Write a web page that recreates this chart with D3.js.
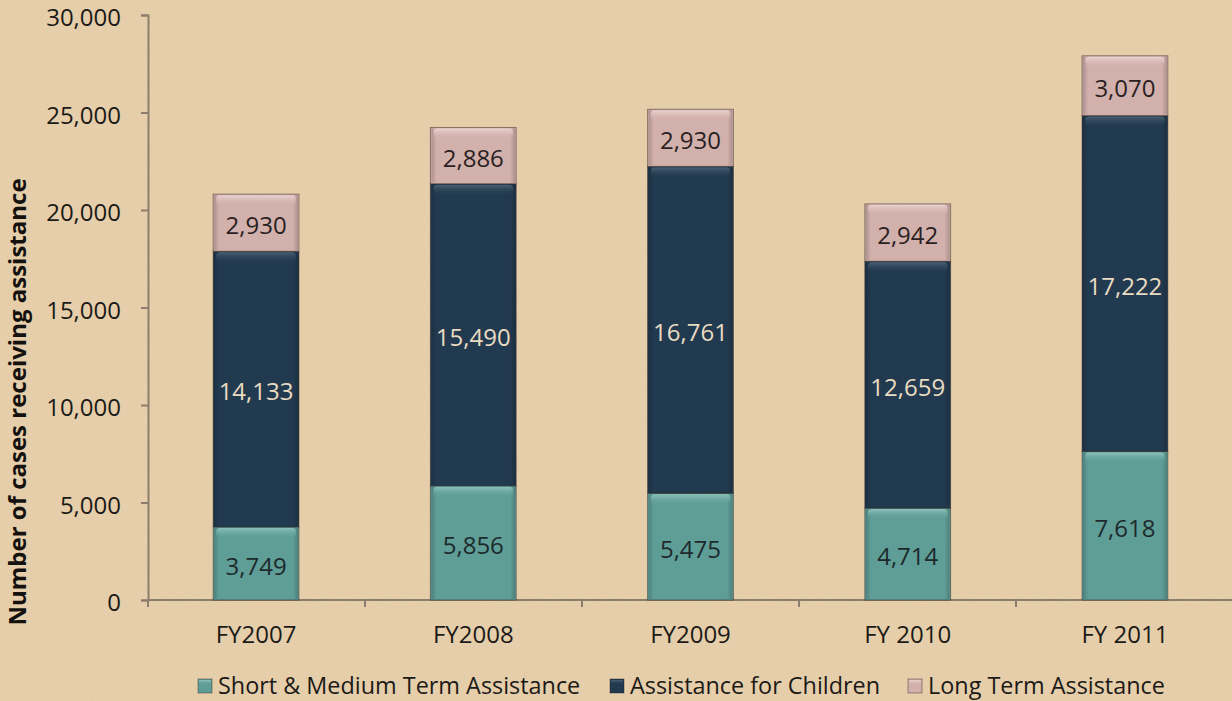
<!DOCTYPE html>
<html>
<head>
<meta charset="utf-8">
<script src="https://cdn.jsdelivr.net/npm/d3@7"></script>
<style>
    html, body { margin: 0; padding: 0; background: #e8d3b0; }
    svg { display: block; font-family: 'Open Sans', sans-serif; }
</style>
</head>
<body>
<div id="chart"></div>
<script>
// chart data
const years = ['FY2007', 'FY2008', 'FY2009', 'FY 2010', 'FY 2011'];
const shortMedium = [3749, 5856, 5475, 4714, 7618];
const children = [14133, 15490, 16761, 12659, 17222];
const longTerm = [2930, 2886, 2930, 2942, 3070];
const seriesNames = ['Short & Medium Term Assistance', 'Assistance for Children', 'Long Term Assistance'];
const yTicks = [0, 5000, 10000, 15000, 20000, 25000, 30000];

const W = 1232;
const H = 701;
const margin = { top: 15, right: -1, bottom: 101, left: 148 };

const COLORS = ['#5f9d97', '#223a4f', '#d2b0ac'];
const HIGHLIGHT = ['#8cc2bb', '#4a6072', '#ead3cf'];
const LABEL_COLORS = ['#1d2a2c', '#e9dcc2', '#2a1f22'];
const FONT_SIZE = '24px';

const svg = d3.select('#chart')
    .append('svg')
    .attr('width', W)
    .attr('height', H);

const defs = svg.append('defs');

// paper texture for the background
const paper = defs.append('filter').attr('id', 'paper')
    .attr('x', 0).attr('y', 0).attr('width', '100%').attr('height', '100%');
paper.append('feTurbulence')
    .attr('type', 'fractalNoise')
    .attr('baseFrequency', 0.9)
    .attr('numOctaves', 2)
    .attr('seed', 3)
    .attr('result', 'noise');
paper.append('feColorMatrix')
    .attr('type', 'matrix')
    .attr('values', '0 0 0 0 0.45  0 0 0 0 0.35  0 0 0 0 0.2  0 0 0 0.16 0');

svg.append('rect').attr('width', W).attr('height', H).attr('fill', '#ead2ae');
svg.append('rect').attr('width', W).attr('height', H).attr('filter', 'url(#paper)');

// bevel gradients, one per series
COLORS.forEach((c, i) => {
    const g = defs.append('linearGradient')
        .attr('id', 'top' + i)
        .attr('x1', 0).attr('y1', 0).attr('x2', 0).attr('y2', 1);
    g.append('stop').attr('offset', '0%').attr('stop-color', HIGHLIGHT[i]);
    g.append('stop').attr('offset', '100%').attr('stop-color', c).attr('stop-opacity', 0);
    const s = defs.append('linearGradient')
        .attr('id', 'side' + i)
        .attr('x1', 0).attr('y1', 0).attr('x2', 1).attr('y2', 0);
    s.append('stop').attr('offset', '0%').attr('stop-color', '#000').attr('stop-opacity', 0.18);
    s.append('stop').attr('offset', '6%').attr('stop-color', '#000').attr('stop-opacity', 0);
    s.append('stop').attr('offset', '94%').attr('stop-color', '#000').attr('stop-opacity', 0);
    s.append('stop').attr('offset', '100%').attr('stop-color', '#000').attr('stop-opacity', 0.18);
});

const width = W - margin.left - margin.right;
const height = H - margin.top - margin.bottom;

const g = svg.append('g')
    .attr('transform', 'translate(' + margin.left + ',' + margin.top + ')');

const xScale = d3.scaleBand()
    .domain(years)
    .range([0, width])
    .paddingInner(0.605)
    .paddingOuter(0.3);

const yScale = d3.scaleLinear()
    .domain([0, 30000])
    .range([height, 0]);

const table = years.map((year, i) => ({
    year: year,
    s0: shortMedium[i],
    s1: children[i],
    s2: longTerm[i]
}));
const stacked = d3.stack().keys(['s0', 's1', 's2'])(table);

const axisColor = '#8b7e6c';

// y axis
const yAxis = d3.axisLeft(yScale)
    .tickValues(yTicks)
    .tickSize(7)
    .tickPadding(20)
    .tickFormat(d3.format(','));
const yAxisG = g.append('g').call(yAxis);
yAxisG.select('.domain').attr('stroke', axisColor).attr('stroke-width', 2);
yAxisG.selectAll('.tick line').attr('stroke', axisColor).attr('stroke-width', 2);
yAxisG.selectAll('.tick text')
    .attr('fill', '#1c1a17')
    .attr('dy', '0.45em')
    .style('font-size', FONT_SIZE)
    .style('font-family', 'Open Sans, sans-serif');

// x axis: line with ticks on the band boundaries
const xAxisG = g.append('g').attr('transform', 'translate(0,' + height + ')');
xAxisG.append('line')
    .attr('x1', 0).attr('x2', width)
    .attr('stroke', axisColor).attr('stroke-width', 2);
xAxisG.selectAll('line.edge')
    .data(years.concat(['end']))
    .enter()
    .append('line')
    .attr('class', 'edge')
    .attr('x1', (d, i) => i * width / years.length)
    .attr('x2', (d, i) => i * width / years.length)
    .attr('y1', 0).attr('y2', 7)
    .attr('stroke', axisColor).attr('stroke-width', 2);
xAxisG.selectAll('text.cat')
    .data(years)
    .enter()
    .append('text')
    .attr('class', 'cat')
    .attr('x', (d) => xScale(d) + xScale.bandwidth() / 2)
    .attr('y', 43)
    .attr('text-anchor', 'middle')
    .attr('fill', '#1c1a17')
    .style('font-size', FONT_SIZE)
    .text((d) => d);

// stacked bars
const layers = g.selectAll('g.layer')
    .data(stacked)
    .enter()
    .append('g')
    .attr('class', 'layer');

layers.each(function (layer, li) {
    const sel = d3.select(this);
    const bars = sel.selectAll('g.seg')
        .data(layer)
        .enter()
        .append('g')
        .attr('class', 'seg');
    bars.append('rect')
        .attr('x', (d) => xScale(d.data.year))
        .attr('y', (d) => yScale(d[1]))
        .attr('width', xScale.bandwidth())
        .attr('height', (d) => yScale(d[0]) - yScale(d[1]))
        .attr('fill', COLORS[li])
        .attr('stroke', 'rgba(30,25,20,0.45)')
        .attr('stroke-width', 1);
    bars.append('rect')
        .attr('x', (d) => xScale(d.data.year) + 1)
        .attr('y', (d) => yScale(d[1]) + 1)
        .attr('width', xScale.bandwidth() - 2)
        .attr('height', (d) => yScale(d[0]) - yScale(d[1]) - 2)
        .attr('fill', 'url(#side' + li + ')');
    bars.append('rect')
        .attr('x', (d) => xScale(d.data.year) + 3)
        .attr('y', (d) => yScale(d[1]) + 1)
        .attr('width', xScale.bandwidth() - 6)
        .attr('height', 11)
        .attr('rx', 4)
        .attr('fill', 'url(#top' + li + ')');
    bars.append('text')
        .attr('x', (d) => xScale(d.data.year) + xScale.bandwidth() / 2)
        .attr('y', (d) => (yScale(d[0]) + yScale(d[1])) / 2 + 3)
        .attr('dy', '0.35em')
        .attr('text-anchor', 'middle')
        .attr('fill', LABEL_COLORS[li])
        .style('font-size', FONT_SIZE)
        .text((d) => d3.format(',')(d[1] - d[0]));
});

// y axis title
svg.append('text')
    .attr('transform', 'translate(26,402) rotate(-90)')
    .attr('text-anchor', 'middle')
    .attr('fill', '#14110e')
    .style('font-size', '24px')
    .style('font-weight', 'bold')
    .text('Number of cases receiving assistance');

// legend
const legendX = [198, 610, 908];
const legend = svg.append('g').attr('class', 'legend');
const items = legend.selectAll('g')
    .data(seriesNames)
    .enter()
    .append('g')
    .attr('transform', (d, i) => 'translate(' + legendX[i] + ',679)');
items.append('rect')
    .attr('width', 14).attr('height', 14)
    .attr('fill', (d, i) => COLORS[i])
    .attr('stroke', 'rgba(30,25,20,0.4)');
items.append('rect')
    .attr('x', 1).attr('y', 1)
    .attr('width', 12).attr('height', 5)
    .attr('fill', (d, i) => 'url(#top' + i + ')');
items.append('text')
    .attr('x', 20)
    .attr('y', 15)
    .attr('fill', '#1c1a17')
    .style('font-size', '23.4px')
    .text((d) => d);
</script>
</body>
</html>
